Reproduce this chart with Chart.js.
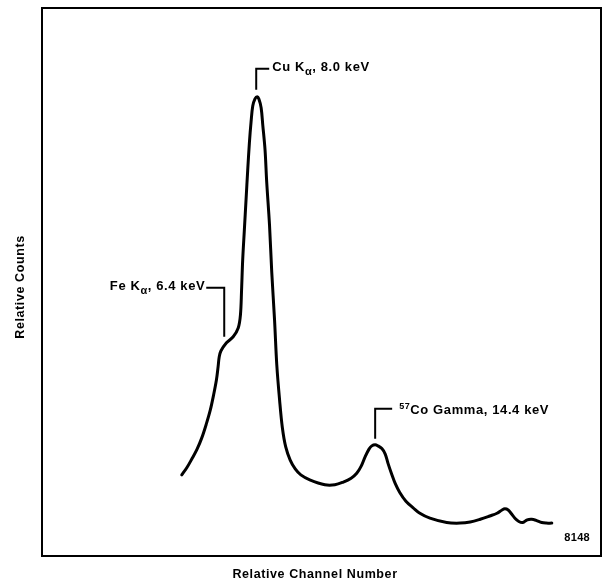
<!DOCTYPE html>
<html>
<head>
<meta charset="utf-8">
<script src="https://cdn.jsdelivr.net/npm/chart.js@4.4.1/dist/chart.umd.min.js"></script>
<style>
  html, body { margin: 0; padding: 0; background: #fff; }
  canvas { display: block; }
</style>
</head>
<body>
<canvas id="spectrum" width="605" height="584"></canvas>
<script>
// relative channel number (0-100 across the frame)
const channels = [
  25.0, 25.9, 26.8, 27.7, 28.6, 29.4, 30.1, 30.7, 31.2, 31.5,
  31.7, 32.0, 33.0, 34.2, 35.1, 35.5, 35.7, 35.9, 36.2, 36.5,
  36.8, 37.1, 37.4, 37.7, 38.1, 38.5, 38.8, 39.2, 39.5, 39.9,
  40.2, 40.7, 41.1, 41.6, 42.0, 42.5, 43.0, 43.6, 44.4, 45.3,
  46.3, 47.9, 50.6, 52.4, 53.9, 55.3, 56.3, 57.1, 57.8, 58.5,
  59.0, 59.6, 60.1, 60.8, 61.4, 61.9, 62.5, 63.2, 64.0, 65.1,
  66.4, 67.6, 69.4, 72.4, 74.8, 76.6, 78.4, 80.1, 81.4, 82.3,
  82.8, 83.4, 83.9, 84.6, 85.3, 86.0, 86.8, 87.6, 88.4, 89.4,
  90.2, 91.2
];
// relative counts (0-100 up the frame)
const counts = [
  14.8, 16.1, 17.7, 19.4, 21.6, 24.1, 26.6, 29.4, 32.1, 34.5,
  36.3, 37.4, 38.9, 40.0, 41.6, 44.0, 48.5, 54.0, 59.5, 65.0,
  70.4, 75.4, 79.2, 82.1, 83.4, 83.8, 83.4, 81.8, 78.6, 74.1,
  68.2, 60.4, 51.8, 43.1, 34.9, 28.5, 23.4, 19.9, 17.5, 15.9,
  14.8, 13.9, 13.0, 13.0, 13.5, 14.2, 15.1, 16.4, 18.1, 19.5,
  20.1, 20.3, 20.1, 19.6, 18.6, 16.9, 15.1, 13.2, 11.6, 10.0,
  8.8, 7.8, 6.9, 6.1, 6.0, 6.2, 6.7, 7.3, 7.8, 8.4,
  8.6, 8.4, 7.8, 6.9, 6.3, 6.1, 6.6, 6.7, 6.5, 6.1,
  6.0, 6.0
];

// where each leader line meets the curve
const peakChannels = [38.5, 32.6, 59.6];
const peakCounts = [83.8, 40.0, 20.3];
const peakLabels = [
  [{ text: "Cu K" }, { text: "α", sub: true }, { text: ", 8.0 keV" }],
  [{ text: "Fe K" }, { text: "α", sub: true }, { text: ", 6.4 keV" }],
  [{ text: "57", sup: true }, { text: "Co Gamma, 14.4 keV" }]
];

const xTitle = "Relative Channel Number";
const yTitle = "Relative Counts";
const figureNumber = "8148";

const FONT = '"Liberation Sans", Arial, Helvetica, sans-serif';

function runFont(r) {
  if (r.sub) return "bold 11px " + FONT;
  if (r.sup) return "bold 9px " + FONT;
  return "bold 13px " + FONT;
}

function runsWidth(ctx, runs) {
  let w = 0;
  runs.forEach(r => {
    ctx.font = runFont(r);
    w += ctx.measureText(r.text).width;
  });
  return w;
}

function drawRuns(ctx, runs, x, y, alignRight) {
  let cx = alignRight ? x - runsWidth(ctx, runs) : x;
  ctx.textAlign = "left";
  ctx.textBaseline = "middle";
  runs.forEach(r => {
    ctx.font = runFont(r);
    let dy = r.sub ? 4 : r.sup ? -4 : 0;
    ctx.fillText(r.text, cx, y + dy);
    cx += ctx.measureText(r.text).width;
  });
}

const framePlugin = {
  id: "frame",
  afterDraw(chart) {
    const ctx = chart.ctx;
    const area = chart.chartArea;
    const sx = chart.scales.x;
    const sy = chart.scales.y;
    ctx.save();
    ctx.strokeStyle = "#000";
    ctx.fillStyle = "#000";
    ctx.lineWidth = 2;
    ctx.strokeRect(area.left, area.top, area.right - area.left, area.bottom - area.top);

    ctx.letterSpacing = "0.6px";

    // Cu K-alpha
    let px = sx.getPixelForValue(peakChannels[0]);
    let py = sy.getPixelForValue(peakCounts[0]);
    ctx.beginPath();
    ctx.moveTo(px - 1, py - 7);
    ctx.lineTo(px - 1, py - 28);
    ctx.lineTo(px + 12, py - 28);
    ctx.stroke();
    drawRuns(ctx, peakLabels[0], px + 15, py - 29, false);

    // Fe K-alpha
    px = sx.getPixelForValue(peakChannels[1]);
    py = sy.getPixelForValue(peakCounts[1]);
    ctx.beginPath();
    ctx.moveTo(px, py);
    ctx.lineTo(px, py - 49);
    ctx.lineTo(px - 18, py - 49);
    ctx.stroke();
    drawRuns(ctx, peakLabels[1], px - 19, py - 50, true);

    // 57Co gamma
    px = sx.getPixelForValue(peakChannels[2]);
    py = sy.getPixelForValue(peakCounts[2]);
    ctx.beginPath();
    ctx.moveTo(px, py - 6);
    ctx.lineTo(px, py - 36);
    ctx.lineTo(px + 17, py - 36);
    ctx.stroke();
    drawRuns(ctx, peakLabels[2], px + 24, py - 34, false);

    // axis titles
    ctx.font = "bold 12.5px " + FONT;
    ctx.textAlign = "center";
    ctx.textBaseline = "middle";
    ctx.fillText(xTitle, 315, 575);
    ctx.save();
    ctx.translate(21, 287);
    ctx.rotate(-Math.PI / 2);
    ctx.fillText(yTitle, 0, 0);
    ctx.restore();

    ctx.letterSpacing = "0.3px";
    ctx.font = "bold 11px " + FONT;
    ctx.textAlign = "right";
    ctx.fillText(figureNumber, 590, 538);
    ctx.restore();
  }
};

document.addEventListener("DOMContentLoaded", () => {
  const $canvas = document.querySelector("#spectrum");

  new Chart($canvas, {
    type: "line",
    data: {
      datasets: [
        {
          data: channels.map((c, i) => ({ x: c, y: counts[i] })),
          borderColor: "#000",
          borderWidth: 3,
          pointRadius: 0,
          fill: false,
          tension: 0.35,
          borderCapStyle: "round",
          borderJoinStyle: "round",
        },
      ],
    },
    options: {
      responsive: false,
      animation: false,
      devicePixelRatio: 1,
      layout: {
        padding: { left: 42, top: 8, right: 4, bottom: 28 },
      },
      plugins: {
        legend: { display: false },
        tooltip: { enabled: false },
      },
      scales: {
        x: { type: "linear", min: 0, max: 100, display: false },
        y: { type: "linear", min: 0, max: 100, display: false },
      },
    },
    plugins: [framePlugin],
  });
});
</script>
</body>
</html>
